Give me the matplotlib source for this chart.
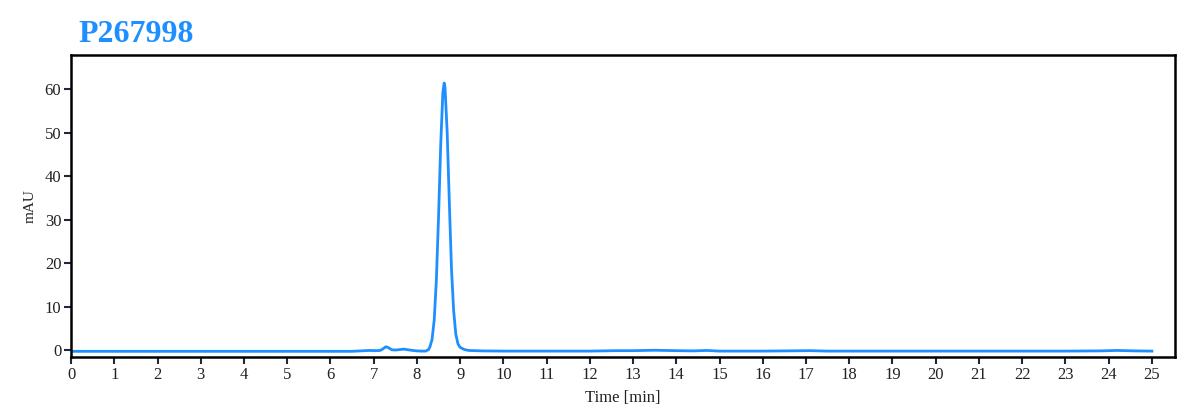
import matplotlib.pyplot as plt

# chromatogram trace (time in min, absorbance in mAU)
time_min = [0.0, 1.0, 2.0, 3.0, 4.0, 5.0, 6.0, 6.5, 6.7, 6.9, 7.05, 7.15, 7.22,
            7.28, 7.34, 7.42, 7.5, 7.6, 7.7, 7.8, 7.9, 8.0, 8.1, 8.2, 8.27,
            8.3, 8.35, 8.4, 8.45, 8.5, 8.55, 8.6, 8.63, 8.65, 8.7, 8.75, 8.8,
            8.85, 8.9, 8.95, 9.0, 9.1, 9.2, 9.5, 10.0, 11.0, 12.0, 12.6, 13.0,
            13.5, 14.0, 14.4, 14.7, 15.0, 16.0, 17.1, 17.5, 18.0, 19.0, 20.0,
            21.0, 22.0, 23.0, 23.8, 24.2, 24.6, 25.0]
mau = [-0.3, -0.3, -0.3, -0.3, -0.3, -0.3, -0.3, -0.3, -0.2, -0.1, -0.15,
       -0.1, 0.3, 0.75, 0.55, 0.05, 0.0, 0.1, 0.2, 0.05, -0.1, -0.2, -0.25,
       -0.25, 0.1, 0.7, 2.4, 6.9, 16.1, 30.5, 47.1, 59.2, 61.4, 60.4, 50.1,
       33.9, 18.6, 9.0, 3.6, 1.4, 0.6, 0.1, -0.1, -0.2, -0.25, -0.25, -0.25,
       -0.15, -0.15, -0.05, -0.15, -0.2, -0.1, -0.25, -0.25, -0.15, -0.25,
       -0.25, -0.25, -0.25, -0.25, -0.25, -0.25, -0.2, -0.1, -0.2, -0.25]

x_ticks = list(range(0, 26))
y_ticks = [0, 10, 20, 30, 40, 50, 60]
title = 'P267998'

blue = '#1E8FFF'
serif = ['Liberation Serif', 'DejaVu Serif']

fig = plt.figure(figsize=(12, 4.18), dpi=100)
ax = fig.add_axes([0.0592, 0.146, 0.9198, 0.722])
ax.plot(time_min, mau, color=blue, lw=2.0, solid_joinstyle='round')

ax.set_xlim(0, 25.53)
ax.set_ylim(-1.6, 67.8)
ax.set_xticks(x_ticks)
ax.set_yticks(y_ticks)
ax.tick_params(direction='out', length=5, width=1.5, labelsize=12, pad=2,
               color='#1a2a3a')
for lab in ax.get_xticklabels() + ax.get_yticklabels():
    lab.set_family(serif)
    lab.set_color('#222222')
for sp in ax.spines.values():
    sp.set_linewidth(1.8)
    sp.set_color('black')

ax.set_xlabel('Time [min]', family=serif, fontsize=12, color='#222222', labelpad=5)
ax.set_ylabel('mAU', family=serif, fontsize=11, color='#222222', labelpad=6)

fig.text(0.065, 0.918, title, family=serif, fontsize=23, fontweight='bold',
         color=blue, va='center', ha='left')

fig.savefig('out.png', dpi=100, facecolor='white')
